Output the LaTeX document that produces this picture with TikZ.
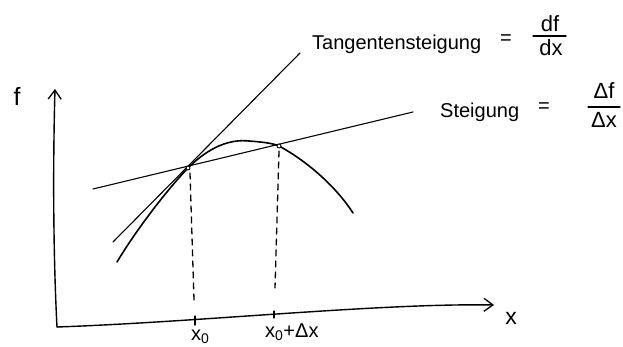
\documentclass[tikz,border=0pt]{standalone}
\usepackage{fontspec}
\setmainfont{Liberation Sans}
\usetikzlibrary{arrows.meta}
\begin{document}
\begin{tikzpicture}[x=1pt,y=-1pt,line cap=round,line join=round,
  axisline/.style={line width=1.4pt,-{Straight Barb[length=9pt,width=13pt,line width=1.3pt]}},
  straightline/.style={line width=1.1pt},
  curveline/.style={line width=1.6pt},
  guide/.style={line width=1.3pt,dash pattern=on 6pt off 5pt},
  tick/.style={line width=1.3pt},
  pointmark/.style={circle,draw,fill=white,line width=0.9pt,inner sep=0pt,minimum size=4pt},
  lbl/.style={inner sep=0pt,font=\fontsize{20}{22}\selectfont},
  fraclbl/.style={inner sep=0pt,font=\fontsize{22}{24}\selectfont},
  fracbar/.style={line width=1.3pt}]
\useasboundingbox (0,0) rectangle (623,347);
% axes
\coordinate (O) at (57,327);
\coordinate (ytop) at (55,89);
\coordinate (xend) at (494,305);
\draw[axisline] (O) .. controls (53,250) and (53,160) .. (ytop);
\draw[axisline] (O) .. controls (200,322) and (380,303) .. (xend);
\node[lbl,font=\fontsize{25}{27}\selectfont] (flabel) at (17,96) {f};
\node[lbl,font=\fontsize{23}{25}\selectfont] (xlabel) at (511,318) {x};
% ticks
\coordinate (t1a) at (195,316); \coordinate (t1b) at (195,325);
\coordinate (t2a) at (274,311); \coordinate (t2b) at (274,318);
\draw[tick] (t1a) -- (t1b);
\draw[tick] (t2a) -- (t2b);
% lines
\coordinate (T1) at (113,242);
\coordinate (T2) at (300,53);
\coordinate (S1) at (93,189);
\coordinate (S2) at (413,112);
\draw[straightline] (T1) -- (T2);
\draw[straightline] (S1) -- (S2);
% curve
\coordinate (C0) at (117,262);
\coordinate (P) at (188,168);
\coordinate (Pk) at (249,141);
\coordinate (Q) at (279,146);
\coordinate (C1) at (353,213);
\draw[curveline] (C0) .. controls (135,232) and (165,192) .. (P)
  .. controls (210,146) and (231,139) .. (Pk)
  .. controls (262,142) and (272,143) .. (Q)
  .. controls (305,160) and (335,185) .. (C1);
% dashed guides
\coordinate (D1a) at (190,173); \coordinate (D1b) at (194,300);
\coordinate (D2a) at (279,151); \coordinate (D2b) at (275,288);
\draw[guide] (D1a) -- (D1b);
\draw[guide] (D2a) -- (D2b);
\node[pointmark] (Pm) at (P) {};
\node[pointmark] (Qm) at (Q) {};
% x labels
\node[lbl,anchor=base west] (x0) at (191,340) {x\textsubscript{0}};
\node[lbl,anchor=base west] (x0dx) at (265,337) {x\textsubscript{0}+Δx};
% Tangentensteigung
\node[lbl,anchor=base west] (tang) at (312,50) {Tangentensteigung};
\node[lbl] (eq1) at (506,40) {=};
\node[fraclbl,anchor=base] (df) at (550,32) {df};
\node[fraclbl,anchor=base] (dx) at (551,56) {dx};
\coordinate (b1a) at (533,36); \coordinate (b1b) at (566,36);
\draw[fracbar] (b1a) -- (b1b);
% Steigung
\node[lbl,anchor=base west] (steig) at (440,118) {Steigung};
\node[lbl] (eq2) at (544,108) {=};
\node[fraclbl,anchor=base] (Df) at (604,99) {Δf};
\node[fraclbl,anchor=base] (Dx) at (604,128) {Δx};
\coordinate (b2a) at (588,107); \coordinate (b2b) at (620,107);
\draw[fracbar] (b2a) -- (b2b);
\end{tikzpicture}
\end{document}
